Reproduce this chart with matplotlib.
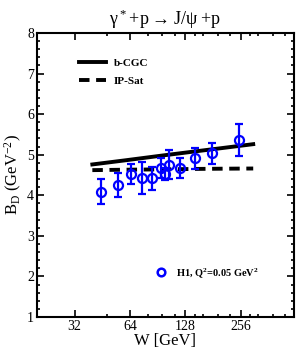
import matplotlib
matplotlib.use("Agg")
import matplotlib.pyplot as plt
from matplotlib.lines import Line2D
from matplotlib.ticker import FixedLocator, NullFormatter, MultipleLocator

plt.rcParams['font.family'] = ['Liberation Serif', 'DejaVu Serif']
plt.rcParams['mathtext.default'] = 'regular'

# H1 data, Q^2 = 0.05 GeV^2
w_h1 = [44.6, 54.9, 64.9, 74.4, 84.3, 94.3, 99.5, 104.6, 119.5, 144.0, 179.5, 250.0]
bd_h1 = [4.09, 4.25, 4.52, 4.42, 4.42, 4.67, 4.52, 4.75, 4.67, 4.91, 5.03, 5.36]
err_h1 = [0.30, 0.30, 0.25, 0.40, 0.28, 0.25, 0.15, 0.36, 0.24, 0.25, 0.27, 0.40]

# model curves
w_model = [40, 60, 100, 150, 200, 300]
bd_cgc = [4.76, 4.86, 4.99, 5.09, 5.16, 5.26]
bd_ipsat = [4.62, 4.63, 4.64, 4.65, 4.655, 4.66]

xticks = [32, 64, 128, 256]
xminor = [48, 80, 96, 112, 144, 160, 192, 224, 288, 320, 384, 448]

fig = plt.figure(figsize=(2.97, 3.56), dpi=100)
ax = fig.add_axes([37/297, 39/356, 257/297, 284/356])

l1, = ax.plot(w_model, bd_cgc, color='black', lw=2.8, label='b-CGC')
l2, = ax.plot(w_model, bd_ipsat, color='black', lw=2.8, ls=(0, (2.7, 1.7)), label='IP-Sat')
ax.errorbar(w_h1, bd_h1, yerr=err_h1, fmt='o', mfc='none', mec='#0000ff',
            ecolor='#0000ff', mew=1.6, ms=6.5, elinewidth=1.6, capsize=3,
            capthick=1.6)
h1 = Line2D([], [], ls='none', marker='o', mfc='none', mec='#0000ff', mew=1.8, ms=5.5,
            label='H1, Q$^2$=0.05 GeV$^2$')

ax.set_xscale('log')
ax.set_xlim(20, 500)
ax.set_ylim(1, 8)
ax.xaxis.set_major_locator(FixedLocator(xticks))
ax.xaxis.set_minor_locator(FixedLocator(xminor))
ax.xaxis.set_minor_formatter(NullFormatter())
ax.set_xticklabels([str(t) for t in xticks])
ax.yaxis.set_major_locator(MultipleLocator(1))
ax.yaxis.set_minor_locator(MultipleLocator(0.2))

ax.tick_params(which='both', direction='in', top=True, right=True, width=1.2,
               labelsize=10, pad=2)
ax.tick_params(which='major', length=5)
ax.tick_params(which='minor', length=2.5)
for s in ax.spines.values():
    s.set_linewidth(1.5)

ax.set_xlabel('W [GeV]', fontsize=12, labelpad=0)
ax.set_ylabel('B$_D$ (GeV$^{-2}$)', fontsize=12, labelpad=2)
ax.set_title('γ$^*$+p$\\rightarrow$J/ψ +p', fontsize=13, pad=6)

leg1 = ax.legend(handles=[l1, l2], loc='upper left', bbox_to_anchor=(0.135, 0.94),
                 frameon=False, handlelength=2.4, handletextpad=0.7,
                 labelspacing=0.75, borderpad=0.2, prop={'weight': 'bold', 'size': 8})
ax.add_artist(leg1)
ax.legend(handles=[h1], loc='center left', bbox_to_anchor=(0.435, 0.156),
          frameon=False, handlelength=1.0, handletextpad=0.9, borderpad=0.2,
          prop={'weight': 'bold', 'size': 7.5})

fig.savefig('out.png', dpi=100)
